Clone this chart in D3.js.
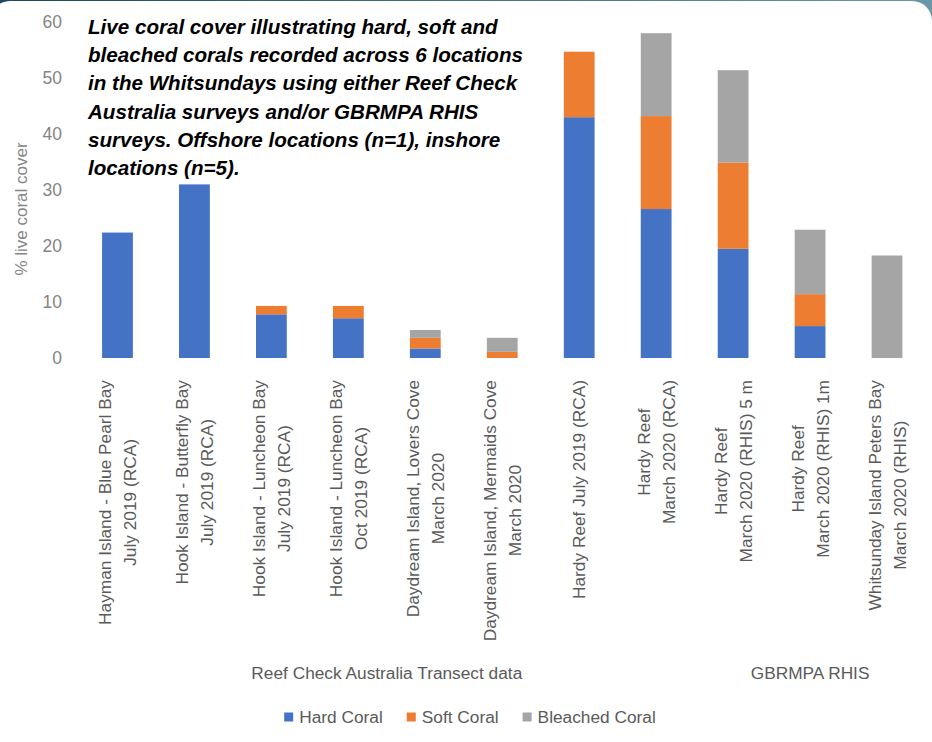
<!DOCTYPE html>
<html>
<head>
<meta charset="utf-8">
<script src="https://cdn.jsdelivr.net/npm/d3@7"></script>
<style>
  html, body { margin: 0; padding: 0; background: #fff; }
  svg { display: block; }
  text { font-family: "Liberation Sans", Arial, sans-serif; }
</style>
</head>
<body>
<svg id="chart" width="932" height="742"></svg>
<script>
// ---------------- data ----------------
const categories = [
  ["Hayman Island - Blue Pearl Bay", "July 2019 (RCA)"],
  ["Hook Island - Butterfly Bay", "July 2019 (RCA)"],
  ["Hook Island - Luncheon Bay", "July 2019 (RCA)"],
  ["Hook Island - Luncheon Bay", "Oct 2019 (RCA)"],
  ["Daydream Island, Lovers Cove", "March 2020"],
  ["Daydream Island, Mermaids Cove", "March 2020"],
  ["Hardy Reef July 2019 (RCA)"],
  ["Hardy Reef", "March 2020 (RCA)"],
  ["Hardy Reef", "March 2020 (RHIS) 5 m"],
  ["Hardy Reef", "March 2020 (RHIS) 1m"],
  ["Whitsunday Island Peters Bay", "March 2020 (RHIS)"]
];
const hardCoral     = [22.4, 31.0, 7.8, 7.1, 1.7, 0.0, 43.0, 26.6, 19.5, 5.7, 0.0];
const softCoral     = [0.0, 0.0, 1.5, 2.2, 1.9, 1.1, 11.7, 16.6, 15.4, 5.7, 0.0];
const bleachedCoral = [0.0, 0.0, 0.0, 0.0, 1.4, 2.5, 0.0, 14.8, 16.5, 11.5, 18.3];
const seriesNames   = ["Hard Coral", "Soft Coral", "Bleached Coral"];
const seriesColors  = ["#4472C4", "#ED7D31", "#A5A5A5"];
const yTicks        = [0, 10, 20, 30, 40, 50, 60];
const groupNames    = ["Reef Check Australia Transect data", "GBRMPA RHIS"];
const groupSizes    = [8, 3];
const yTitle        = "% live coral cover";
const titleLines = [
  "Live coral cover illustrating hard, soft and",
  "bleached corals recorded across 6 locations",
  "in the Whitsundays using either Reef Check",
  "Australia surveys and/or GBRMPA RHIS",
  "surveys. Offshore locations (n=1), inshore",
  "locations (n=5)."
];

// ---------------- layout ----------------
const W = 932, H = 742;
const svg = d3.select("#chart");

// background frame
const defs = svg.append("defs");
const grad = defs.append("linearGradient").attr("id", "bg").attr("x1", 0).attr("x2", 1);
grad.append("stop").attr("offset", "0%").attr("stop-color", "#1b4a5e");
grad.append("stop").attr("offset", "100%").attr("stop-color", "#6a98a8");
svg.append("rect").attr("width", W).attr("height", H).attr("fill", "url(#bg)");
svg.append("rect").attr("x", -10).attr("y", 1).attr("width", W + 10).attr("height", H + 40)
  .attr("rx", 20).attr("fill", "#ffffff");

const keys = ["hard", "soft", "bleached"];
const rows = categories.map((c, i) => ({
  idx: i, hard: hardCoral[i], soft: softCoral[i], bleached: bleachedCoral[i]
}));

const x = d3.scaleBand().domain(d3.range(categories.length))
  .range([79, 925.5]).paddingInner(0.6).paddingOuter(0.3);
const y = d3.scaleLinear().domain([0, 60]).range([358, 22]);
const color = d3.scaleOrdinal().domain(keys).range(seriesColors);

const stack = d3.stack().keys(keys)(rows);

svg.append("g").selectAll("g").data(stack).join("g")
  .attr("fill", d => color(d.key))
  .selectAll("rect").data(d => d).join("rect")
  .attr("x", d => x(d.data.idx))
  .attr("width", x.bandwidth())
  .attr("y", d => y(d[1]))
  .attr("height", d => Math.max(0, y(d[0]) - y(d[1])));

// y axis
const yAxis = d3.axisLeft(y).tickValues(yTicks).tickSize(0).tickPadding(4);
const ya = svg.append("g").attr("transform", "translate(66,0)").call(yAxis);
ya.select(".domain").remove();
ya.selectAll("text").attr("fill", "#858585").style("font-size", "17.5px")
  .style("font-family", "'Liberation Sans', Arial, sans-serif");

svg.append("text")
  .attr("transform", "translate(21,209) rotate(-90)")
  .attr("text-anchor", "middle").attr("dy", "0.35em")
  .attr("fill", "#858585").style("font-size", "17px")
  .text(yTitle);

// category labels (rotated)
const labelTop = 380;
const lineGap = 25;
categories.forEach((lines, i) => {
  const g = svg.append("g");
  const ts = lines.map((ln, j) => g.append("text")
    .attr("text-anchor", "middle")
    .attr("y", (j - (lines.length - 1) / 2) * lineGap)
    .attr("dy", "0.35em")
    .attr("fill", "#5a5a5a").style("font-size", "17.3px")
    .text(ln));
  const maxLen = d3.max(ts, t => t.node().getComputedTextLength());
  const cx = x(i) + x.bandwidth() / 2;
  g.attr("transform", `translate(${cx},${labelTop + maxLen / 2}) rotate(-90)`);
});

// group labels
let start = 0;
groupNames.forEach((name, gi) => {
  const first = start, last = start + groupSizes[gi] - 1;
  const cx = (x(first) + x(last) + x.bandwidth()) / 2;
  svg.append("text").attr("x", cx).attr("y", 673).attr("dy", "0.35em")
    .attr("text-anchor", "middle").attr("fill", "#5a5a5a").style("font-size", "17.3px")
    .text(name);
  start += groupSizes[gi];
});

// legend
const legend = svg.append("g");
let lx = 0;
seriesNames.forEach((name, i) => {
  const it = legend.append("g").attr("transform", `translate(${lx},0)`);
  it.append("rect").attr("x", 0).attr("y", -4.5).attr("width", 9).attr("height", 9)
    .attr("fill", seriesColors[i]);
  const t = it.append("text").attr("x", 15).attr("dy", "0.35em")
    .attr("fill", "#5a5a5a").style("font-size", "17.3px").text(name);
  lx += 15 + t.node().getComputedTextLength() + 24;
});
const legendW = lx - 24;
legend.attr("transform", `translate(${470 - legendW / 2},717)`);

// title
const title = svg.append("text").attr("x", 88).attr("y", 34)
  .attr("fill", "#000").style("font-size", "20.6px")
  .style("font-weight", "bold").style("font-style", "italic");
titleLines.forEach((ln, i) => {
  title.append("tspan").attr("x", 88).attr("y", 34 + i * 28.2).text(ln);
});
</script>
</body>
</html>
